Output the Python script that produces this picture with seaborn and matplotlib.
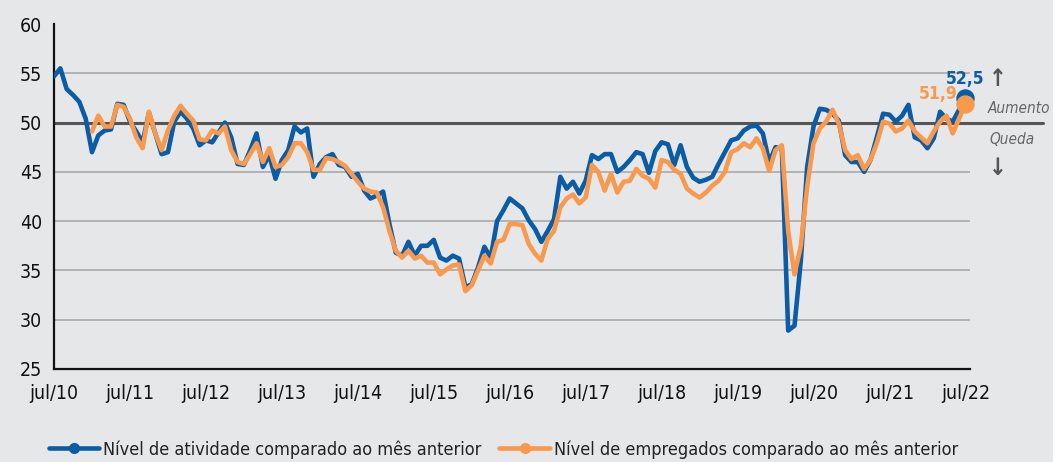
import pandas as pd
import numpy as np
import matplotlib
matplotlib.use("Agg")
import matplotlib.pyplot as plt
from matplotlib.lines import Line2D
import seaborn as sns

# dados (leitura do gráfico), mensal jul/10 .. jul/22
atividade = [
    54.7, 55.5, 53.4, 52.8, 52.1, 50.4, 47.0, 48.7, 49.2, 49.3, 51.9, 51.8,
    50.1, 49.1, 48.0, 51.0, 48.9, 46.8, 47.0, 50.1, 51.1, 50.4, 49.4, 47.7,
    48.2, 48.0, 49.0, 50.0, 48.5, 45.8, 45.7, 47.2, 48.9, 45.5, 46.7, 44.3,
    46.2, 47.2, 49.6, 49.0, 49.4, 44.5, 45.8, 46.5, 46.8, 45.7, 45.5, 44.5,
    44.8, 43.1, 42.3, 42.6, 43.0, 39.7, 36.8, 36.5, 37.9, 36.5, 37.5, 37.5,
    38.1, 36.3, 36.0, 36.5, 36.2, 33.3, 33.6, 35.3, 37.4, 36.3, 40.0, 41.1,
    42.3, 41.8, 41.3, 40.1, 39.2, 37.9, 39.0, 40.2, 44.5, 43.3, 44.0, 42.8,
    44.1, 46.7, 46.3, 46.8, 46.8, 45.0, 45.5, 46.2, 47.0, 46.8, 44.9, 47.1,
    48.0, 47.8, 45.7, 47.7, 45.5, 44.4, 44.0, 44.2, 44.5, 45.8, 47.0, 48.2,
    48.4, 49.2, 49.6, 49.7, 48.9, 46.0, 47.5, 47.4, 28.9, 29.4, 36.0, 45.5,
    49.6, 51.4, 51.3, 50.9, 50.2, 46.7, 46.0, 46.0, 45.0, 46.2, 48.5, 50.9,
    50.8, 50.1, 50.7, 51.8, 48.5, 48.2, 47.4, 48.4, 51.1, 50.4, 50.1, 51.3,
    52.5,
]
empregados = [np.nan] * 6 + [
    49.1, 50.7, 49.6, 49.6, 51.8, 51.6,
    50.4, 48.5, 47.4, 51.1, 48.9, 47.2, 49.2, 50.7, 51.7, 50.9, 50.2, 48.3,
    48.2, 49.2, 48.9, 49.6, 47.2, 46.0, 45.8, 46.8, 47.9, 46.0, 47.4, 45.5,
    45.7, 46.5, 47.9, 47.9, 47.0, 45.2, 45.2, 46.4, 46.3, 46.0, 45.6, 44.8,
    44.0, 43.3, 43.0, 42.9, 41.4, 39.0, 37.0, 36.3, 37.0, 36.2, 36.5, 35.8,
    35.8, 34.6, 35.1, 35.5, 35.6, 32.9, 33.5, 35.0, 36.5, 35.7, 37.9, 38.1,
    39.7, 39.7, 39.6, 37.7, 36.7, 36.0, 38.2, 39.0, 41.4, 42.3, 42.7, 41.8,
    42.4, 45.7, 45.0, 43.1, 44.8, 42.9, 44.0, 44.1, 45.3, 44.6, 44.3, 43.4,
    46.2, 46.0, 45.2, 44.8, 43.3, 42.8, 42.4, 42.9, 43.6, 44.1, 45.0, 47.0,
    47.3, 47.9, 47.5, 48.4, 47.4, 45.1, 47.2, 47.7, 39.0, 34.6, 37.5, 43.5,
    47.9, 49.4, 50.1, 51.3, 49.9, 47.2, 46.3, 46.7, 45.3, 46.2, 47.9, 50.1,
    49.9, 49.1, 49.4, 50.2, 49.1, 48.5, 47.9, 49.1, 50.1, 50.7, 48.9, 50.4,
    51.9,
]
rotulos_x = ['jul/10', 'jul/11', 'jul/12', 'jul/13', 'jul/14', 'jul/15', 'jul/16',
             'jul/17', 'jul/18', 'jul/19', 'jul/20', 'jul/21', 'jul/22']
nome_atv = 'Nível de atividade comparado ao mês anterior'
nome_emp = 'Nível de empregados comparado ao mês anterior'

azul = '#0B5CA6'
laranja = '#F8994D'
fundo = '#E6E7E9'

df = pd.DataFrame({'mes': np.arange(len(atividade)),
                   'atividade': atividade,
                   'empregados': empregados})

sns.set_style('white')
plt.rcParams['font.family'] = ['DejaVu Sans']
plt.rcParams['font.stretch'] = 'condensed'

fig = plt.figure(figsize=(10.53, 4.62), dpi=100, facecolor=fundo)
ax = fig.add_axes([0.0513, 0.2013, 0.8697, 0.7467])
ax.set_facecolor(fundo)

# grade
for v in [30, 35, 40, 45, 55]:
    ax.axhline(v, color='#AAAAAA', lw=1.2, zorder=1)
ax.plot([0, 1.08], [50, 50], transform=ax.get_yaxis_transform(), color='#555555',
        lw=2.2, clip_on=False, zorder=2)

sns.lineplot(data=df, x='mes', y='atividade', color=azul, lw=3.3, ax=ax, zorder=3)
sns.lineplot(data=df, x='mes', y='empregados', color=laranja, lw=3.3, ax=ax, zorder=4)

ult = len(atividade) - 1
ax.scatter([ult], [atividade[-1]], s=150, color=azul, zorder=5, clip_on=False)
ax.scatter([ult], [empregados[-1]], s=150, color=laranja, zorder=6, clip_on=False)
ax.text(ult, atividade[-1] + 1.0, f'{atividade[-1]:.1f}'.replace('.', ','),
        color=azul, fontsize=12.5, fontweight='bold', ha='center', va='bottom', zorder=7)
ax.text(ult - 1.3, empregados[-1] + 0.1, f'{empregados[-1]:.1f}'.replace('.', ','),
        color=laranja, fontsize=12.5, fontweight='bold', ha='right', va='bottom', zorder=7)

# Aumento / Queda
cinza = '#555555'
fig.text(0.9475, 0.83, '↑', color=cinza, fontsize=17, fontweight='bold', ha='center',
         va='center')
fig.text(0.9475, 0.637, '↓', color=cinza, fontsize=17, fontweight='bold', ha='center',
         va='center')
fig.text(0.938, 0.765, 'Aumento', color='#666666', fontsize=11, style='italic', va='center')
fig.text(0.940, 0.697, 'Queda', color='#666666', fontsize=11, style='italic', va='center')

ax.set_xlim(0, 144.7)
ax.set_ylim(25, 60)
ax.set_yticks(range(25, 61, 5))
ax.set_xticks(range(0, 145, 12))
ax.set_xticklabels(rotulos_x)
ax.set_xlabel('')
ax.set_ylabel('')
ax.tick_params(axis='both', labelsize=14, colors='#111111', length=5, width=1.2,
               direction='out')
ax.tick_params(axis='x', pad=6)

for s in ['top', 'right']:
    ax.spines[s].set_visible(False)
for s in ['left', 'bottom']:
    ax.spines[s].set_color('#111111')
    ax.spines[s].set_linewidth(1.6)

handles = [Line2D([], [], color=azul, lw=3.3, marker='o', markersize=7),
           Line2D([], [], color=laranja, lw=3.3, marker='o', markersize=7)]
fig.legend(handles, [nome_atv, nome_emp], loc='center', bbox_to_anchor=(0.478, 0.027),
           ncol=2, frameon=False, fontsize=13, handlelength=2.8, handletextpad=0.2,
           columnspacing=1.0, labelcolor='#222222')

fig.savefig('out.png', dpi=100, facecolor=fundo)
